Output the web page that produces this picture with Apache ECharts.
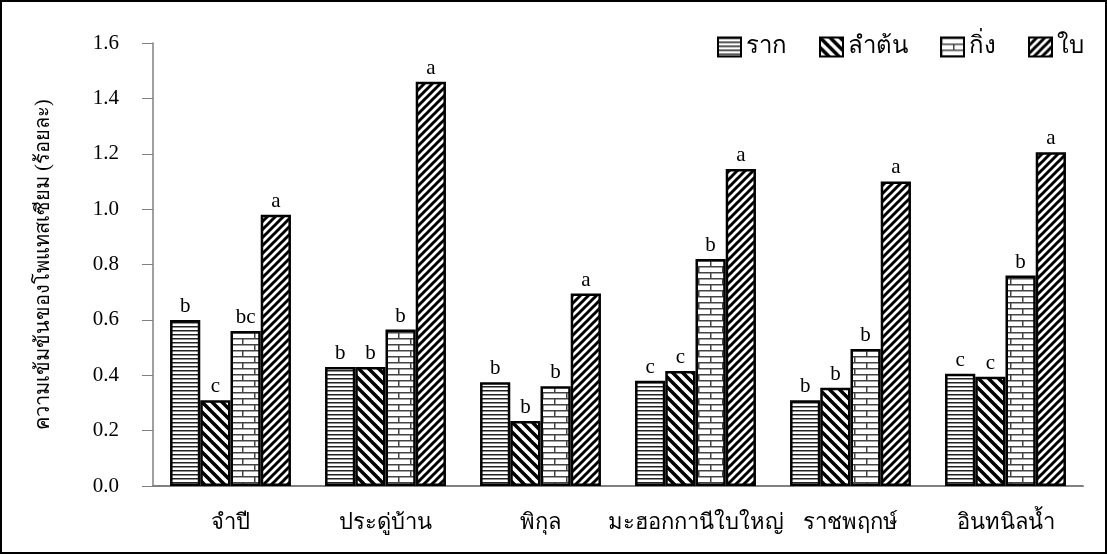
<!DOCTYPE html>
<html><head><meta charset="utf-8">
<script src="https://cdn.jsdelivr.net/npm/echarts@6/dist/echarts.min.js"></script>
<style>html,body{margin:0;padding:0;background:#fff}#c{width:1107px;height:554px;box-sizing:border-box;border:2px solid #000}</style>
</head><body><div id="c"></div>
<script>
const categories = ['จำปี','ประดู่บ้าน','พิกุล','มะฮอกกานีใบใหญ่','ราชพฤกษ์','อินทนิลน้ำ'];
const seriesNames = ['ราก','ลำต้น','กิ่ง','ใบ'];
const root   = [0.60, 0.43, 0.375, 0.38, 0.31, 0.405];
const stem   = [0.31, 0.43, 0.235, 0.415, 0.355, 0.395];
const branch = [0.56, 0.565, 0.36, 0.82, 0.495, 0.76];
const leaf   = [0.98, 1.46, 0.695, 1.145, 1.10, 1.205];
const rootLetters   = ['b','b','b','c','b','c'];
const stemLetters   = ['c','b','b','c','b','c'];
const branchLetters = ['bc','b','b','b','b','b'];
const leafLetters   = ['a','a','a','a','a','a'];

function mk(w,h,draw){const c=document.createElement('canvas');c.width=w;c.height=h;const g=c.getContext('2d');g.fillStyle='#fff';g.fillRect(0,0,w,h);draw(g,w,h);return c;}
const pHoriz = mk(8,4,(g,w,h)=>{g.fillStyle='#222';g.fillRect(0,0,w,1.5);});
function diag(size,lw,back){return mk(size,size,(g,w,h)=>{g.strokeStyle='#000';g.lineWidth=lw;g.lineCap='square';
  for(const o of [-size,0,size]){g.beginPath();if(back){g.moveTo(o,0);g.lineTo(o+size,size);}else{g.moveTo(o,size);g.lineTo(o+size,0);}g.stroke();}});}
const pBack = diag(10,3.5,true);
const pFwd = diag(8,3,false);
const pBrick = mk(24,12,(g,w,h)=>{g.fillStyle='#444';g.fillRect(0,0,w,1.5);g.fillRect(0,6,w,1.5);g.fillRect(0,0,1.5,6);g.fillRect(12,6,1.5,6);});
const patterns=[pHoriz,pBack,pBrick,pFwd];
const dataArr=[root,stem,branch,leaf];
const letterArr=[rootLetters,stemLetters,branchLetters,leafLetters];
const FONT="'Liberation Serif','Times New Roman',serif";
const chart=echarts.init(document.getElementById('c'));
chart.setOption({
  animation:false,
  textStyle:{fontFamily:FONT},
  legend:{top:28,right:16,itemWidth:23,itemHeight:19,itemGap:32,icon:'rect',
    textStyle:{fontSize:24,color:'#000',fontFamily:FONT},data:seriesNames},
  grid:{left:151,right:22,top:41,bottom:66},
  xAxis:{type:'category',data:categories,axisLine:{lineStyle:{color:'#808080',width:2}},axisTick:{show:false},
    axisLabel:{interval:0,fontSize:22,color:'#000',margin:26,fontFamily:FONT}},
  yAxis:{type:'value',min:0,max:1.6,interval:0.2,name:'ความเข้มข้นของโพแทสเซียม (ร้อยละ)',nameLocation:'middle',nameGap:99,
    nameTextStyle:{fontSize:20,color:'#000',fontFamily:FONT},
    axisLine:{show:true,lineStyle:{color:'#808080',width:1.5}},axisTick:{show:true,length:11,lineStyle:{color:'#808080'}},
    splitLine:{show:false},axisLabel:{fontSize:21,color:'#000',margin:34,formatter:v=>v.toFixed(1),fontFamily:FONT}},
  series:seriesNames.map((n,i)=>({name:n,type:'bar',data:dataArr[i],barGap:'0%',barCategoryGap:'22%',
    itemStyle:{color:{image:patterns[i],repeat:'repeat'},borderColor:'#000',borderWidth:2.5},
    label:{show:true,position:'top',distance:3,fontSize:21,color:'#000',fontFamily:FONT,formatter:p=>letterArr[i][p.dataIndex]}}))
});
</script></body></html>
